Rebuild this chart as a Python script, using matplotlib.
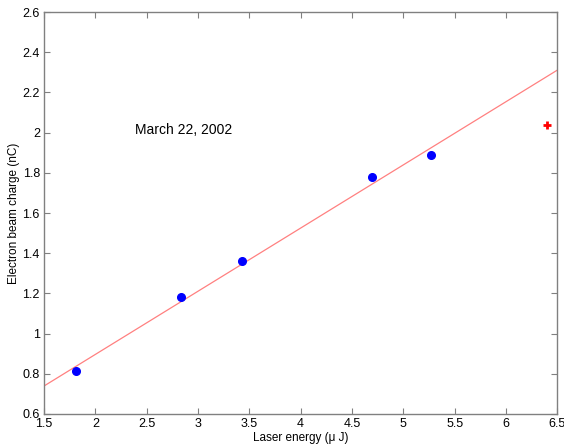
import matplotlib
matplotlib.use("Agg")
import matplotlib.pyplot as plt

plt.rcParams['font.family'] = ['Liberation Sans', 'DejaVu Sans']

# measured points (laser energy in uJ, charge in nC)
energy = [1.81, 2.83, 3.43, 4.70, 5.27]
charge = [0.815, 1.182, 1.360, 1.778, 1.890]

# outlier shown with a red plus
outlier_energy = [6.40]
outlier_charge = [2.04]

# linear fit line endpoints
fit_x = [1.5, 6.5]
fit_y = [0.739, 2.311]

xticks = [1.5, 2, 2.5, 3, 3.5, 4, 4.5, 5, 5.5, 6, 6.5]
yticks = [0.6, 0.8, 1, 1.2, 1.4, 1.6, 1.8, 2, 2.2, 2.4, 2.6]

fig = plt.figure(figsize=(5.64, 4.48), dpi=100)
ax = fig.add_axes([0.078, 0.076, 0.910, 0.897])

ax.plot(fit_x, fit_y, color='#ff8080', lw=0.9)
ax.plot(energy, charge, 'o', color='#0000ff', ms=5.5, mec='#0000ff')
ax.plot(outlier_energy, outlier_charge, '+', color='#ff0000', ms=6, mew=2)

ax.text(2.39, 2.013, 'March 22, 2002', fontsize=10, va='center', ha='left')

ax.set_xlim(1.5, 6.5)
ax.set_ylim(0.6, 2.6)
ax.set_xticks(xticks)
ax.set_yticks(yticks)
ax.set_xticklabels([('%g' % t) for t in xticks])
ax.set_yticklabels([('%g' % t) for t in yticks])

for s in ax.spines.values():
    s.set_color('#808080')
    s.set_linewidth(1.0)
ax.tick_params(direction='in', length=4, width=0.8, color='#808080',
               labelsize=9, top=True, right=True, pad=3)

ax.set_xlabel('Laser energy (\u03bc J)', fontsize=8.5, labelpad=1)
ax.set_ylabel('Electron beam charge (nC)', fontsize=8.5, labelpad=2)

fig.savefig('out.png', dpi=100)
